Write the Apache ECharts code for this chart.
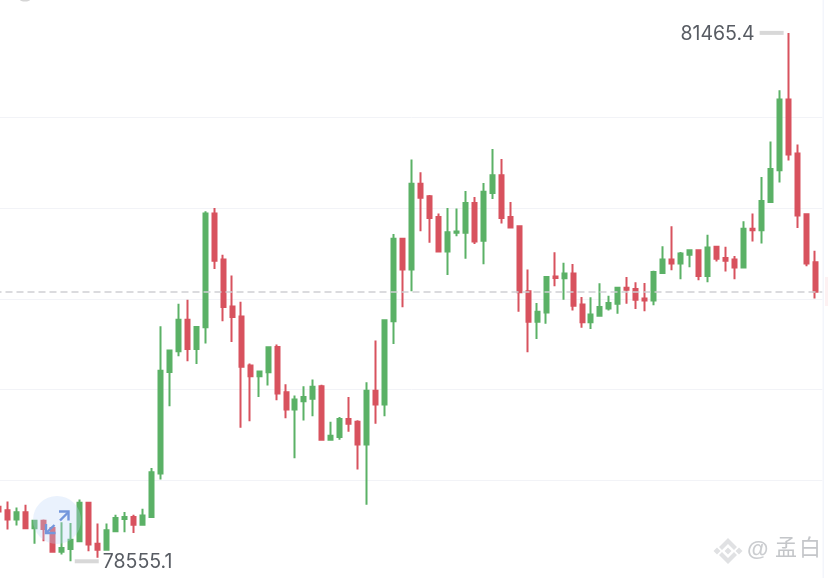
<!DOCTYPE html>
<html><head><meta charset="utf-8">
<style>html,body{margin:0;padding:0;background:#fff;overflow:hidden;width:828px;height:578px}#c{position:absolute;left:-10px;top:0;width:850px;height:578px}</style>
<script src="https://cdn.jsdelivr.net/npm/echarts@6/dist/echarts.min.js"></script>
</head><body><div id="c"></div>
<script>
const opens=[78856,78836,78785,78825,78737,78778,78739,78608,78623,78665,78877,78652,78619,78720,78788,78799,78757,78799,79038,79598,79712,79886,79725,79844,80470,80217,79959,79904,79633,79574,79596,79736,79486,79391,79436,79451,79519,79225,79240,79339,79323,79198,79495,79418,79877,80331,80162,80635,80565,80452,80261,80365,80365,80529,80321,80584,80681,80452,80400,80042,79874,79926,80123,80114,80140,79969,79871,79908,79947,79974,80062,80055,80002,79992,80143,80217,80195,80243,80268,80127,80287,80226,80217,80173,80387,80378,80534,80709,81098,80801,80466,80202];
const closes=[78829,78785,78825,78737,78778,78733,78608,78629,78674,78877,78647,78619,78726,78794,78799,78757,78808,79045,79605,79716,79886,79725,79846,80470,80211,79956,79901,79626,79574,79600,79734,79479,79391,79446,79460,79517,79225,79247,79339,79313,79198,79495,79418,79882,80331,80162,80635,80558,80446,80261,80367,80371,80529,80317,80590,80681,80446,80393,80037,79874,79930,80121,80116,80140,79963,79871,79915,79955,79978,80062,80051,79996,79992,80149,80217,80195,80250,80268,80127,80284,80221,80211,80173,80387,80378,80540,80716,81098,80795,80459,80195,80040];
const lows=[78796,78730,78752,78735,78652,78665,78605,78592,78555.1,78663,78610,78575,78617,78718,78715,78711,78753,78797,79005,79409,79684,79657,79642,79754,80165,79877,79763,79290,79326,79460,79524,79442,79343,79122,79330,79354,79221,79221,79225,79269,79060,78867,79312,79354,79752,79954,80042,80373,80309,80257,80132,80345,80221,80303,80191,80551,80415,80389,79929,79706,79780,79863,80070,79995,79936,79842,79834,79904,79937,79918,79973,79945,79932,79965,80142,80158,80108,80174,80103,80092,80206,80151,80108,80171,80317,80306,80533,80642,80762,80391,80180,80003];
const highs=[78873,78885,78851,78867,78778,78785,78746,78770,78766,78895,78879,78763,78763,78812,78827,78812,78844,79069,79849,79718,79974,79996,79848,80483,80501,80244,80129,79984,79644,79602,79735,79749,79530,79468,79519,79556,79527,79323,79350,79460,79332,79541,79771,79883,80358,80332,80768,80698,80573,80470,80501,80498,80595,80562,80639,80826,80771,80534,80401,80162,79978,80123,80257,80199,80193,80011,80010,80087,80018,80064,80121,80092,80088,80156,80290,80400,80259,80270,80270,80354,80292,80287,80237,80428,80470,80672,80867,81149,81465.4,80850,80467,80266];
const categories=opens.map((_,i)=>String(i)).concat(['']);
const currentPrice=80040;
const highLabel='81465.4', lowLabel='78555.1';
const chart=echarts.init(document.getElementById('c'),null,{renderer:'canvas'});
const GREEN='#5bb166',RED='#d8525e',ARROW='#7396dc',MARK='#e0e1e3';
const font='"Inter","Liberation Sans",sans-serif';
const markLabel={show:true,fontSize:19.5,color:'#585c63',fontFamily:font,fontWeight:400,offset:[0,1]};
const gfxZ={z:50,silent:true};
const arrowLine=pts=>Object.assign({type:'polyline',shape:{points:pts},style:{stroke:ARROW,lineWidth:2.4,fill:null}},gfxZ);
const logoPart=pts=>Object.assign({type:'polygon',shape:{points:pts},style:{fill:MARK}},gfxZ);
chart.setOption({
  animation:false,
  backgroundColor:'#fff',
  grid:{left:4.5,width:834.2,top:26.6,height:544.7},
  xAxis:{type:'category',data:categories,boundaryGap:true,show:false},
  yAxis:{type:'value',min:78500,max:81500,interval:500,scale:true,
    axisLine:{show:false},axisTick:{show:false},axisLabel:{show:false},
    splitLine:{show:true,showMinLine:false,showMaxLine:false,lineStyle:{color:'#f2f3f7',width:1}}},
  series:[{
    type:'candlestick',
    barWidth:4.5,
    clip:false,
    data:opens.map((o,i)=>[o,closes[i],lows[i],highs[i]]),
    itemStyle:{color:GREEN,color0:RED,borderColor:GREEN,borderColor0:RED,borderWidth:2,borderColorDoji:GREEN},
    markLine:{
      silent:true,symbol:'none',label:{show:false},
      lineStyle:{type:[7,4],color:'#cfd0d3',width:1.5},
      data:[{yAxis:currentPrice}]
    },
    markPoint:{
      silent:true,symbol:'rect',symbolSize:[24,4],
      itemStyle:{color:'#d8d8d8'},
      data:[
        {coord:['88',81465.4],symbolOffset:[-16.7,0],value:highLabel,
         label:Object.assign({},markLabel,{position:'left',distance:5,formatter:highLabel})},
        {coord:['8',78555.1],symbolOffset:[16,0],value:lowLabel,
         label:Object.assign({},markLabel,{position:'right',distance:4,formatter:lowLabel})}
      ]
    }
  }],
  graphic:[{type:'group',x:10,children:[
    Object.assign({type:'circle',shape:{cx:57,cy:520,r:24},style:{fill:'rgba(190,215,250,0.32)'}},gfxZ),
    arrowLine([[60,520.5],[68.5,512]]),
    arrowLine([[59,511.5],[68.5,511.5],[68.5,520.5]]),
    arrowLine([[54.5,525],[46,533]]),
    arrowLine([[46,524],[46,533],[55.5,533]]),
    Object.assign({type:'rect',shape:{x:822.5,y:0,width:6,height:578},style:{fill:'#ffffff'}},gfxZ),
    Object.assign({type:'rect',shape:{x:822.5,y:0,width:1.5,height:578},style:{fill:'#f3f5fb'}},gfxZ),
    Object.assign({type:'rect',shape:{x:825,y:277,width:3,height:29},style:{fill:'#fdf1f2'}},gfxZ),
    Object.assign({type:'ellipse',shape:{cx:25,cy:0,rx:5,ry:1.5},style:{fill:'#d5d5d5'}},gfxZ),
    logoPart([[728,538],[737,547],[734,550],[728,544],[722,550],[719,547]]),
    logoPart([[728,564],[737,555],[734,552],[728,558],[722,552],[719,555]]),
    logoPart([[728,547.5],[731.5,551],[728,554.5],[724.5,551]]),
    logoPart([[717,547.5],[720.5,551],[717,554.5],[713.5,551]]),
    logoPart([[739,547.5],[742.5,551],[739,554.5],[735.5,551]]),
    Object.assign({type:'text',x:747,y:539,style:{text:'@',fontSize:22,fontWeight:600,fill:'#cbcdd0',fontFamily:'"Liberation Sans",sans-serif'}},gfxZ),
    Object.assign({type:'text',x:775,y:536,style:{text:'孟',fontSize:22,fill:'#c4c6c9',fontFamily:'"Noto Sans CJK SC",sans-serif'}},gfxZ),
    Object.assign({type:'text',x:799,y:536,style:{text:'白',fontSize:22,fill:'#c4c6c9',fontFamily:'"Noto Sans CJK SC",sans-serif'}},gfxZ)
  ]}]
});
</script></body></html>
